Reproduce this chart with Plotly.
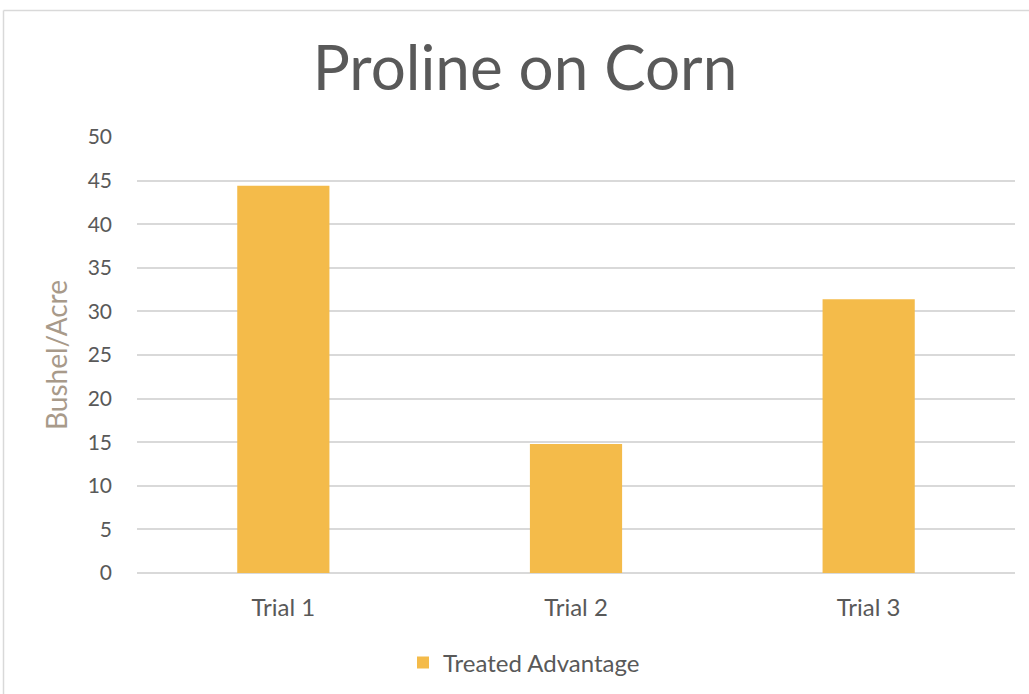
import plotly.graph_objects as go

categories = ["Trial 1", "Trial 2", "Trial 3"]
values = [44.4, 14.8, 31.4]
series_name = "Treated Advantage"
y_ticks = [0, 5, 10, 15, 20, 25, 30, 35, 40, 45, 50]

W, H = 1029, 694
ml, mr, mt, mb = 137, 14, 137, 121
pw = W - ml - mr
ph = H - mt - mb

fig = go.Figure()
fig.add_trace(go.Bar(
    x=categories, y=values, name=series_name,
    marker=dict(color="#F4BB4A", line=dict(width=0)),
    showlegend=True,
))

fig.update_layout(
    width=W, height=H,
    margin=dict(l=ml, r=mr, t=mt, b=mb),
    paper_bgcolor="white", plot_bgcolor="white",
    bargap=0.685,
    font=dict(family="Lato, Open Sans, sans-serif", color="#595959"),
    title=dict(text="Proline on Corn", x=525 / W, xref="container", xanchor="center",
               y=1 - 68 / H, yref="container", yanchor="middle",
               font=dict(family="Lato, sans-serif", size=62, color="#595959")),
    xaxis=dict(showgrid=False, showline=False, ticks="", tickfont=dict(size=24, color="#595959"),
               ticklabelstandoff=18),
    yaxis=dict(range=[0, 50], tickvals=y_ticks, showgrid=True, gridcolor="#D9D9D9", gridwidth=1.5,
               zeroline=True, zerolinecolor="#D9D9D9", zerolinewidth=1.5,
               tickfont=dict(size=21, color="#595959"), ticklabelstandoff=24,
               title=dict(text="Bushel/Acre", font=dict(size=28, color="#A89A8A"), standoff=11)),
    legend=dict(orientation="h", x=524 / W, xref="container", xanchor="center",
                y=1 - 663 / H, yref="container", yanchor="middle",
                font=dict(size=24, color="#595959"), itemwidth=30),
    shapes=[
        dict(type="line", xref="paper", yref="paper",
             x0=(3.5 - ml) / pw, x1=(W + 5 - ml) / pw,
             y0=(H - mb - 10.5) / ph, y1=(H - mb - 10.5) / ph,
             line=dict(color="#D9D9D9", width=1.5)),
        dict(type="line", xref="paper", yref="paper",
             x0=(3.5 - ml) / pw, x1=(3.5 - ml) / pw,
             y0=(H - mb - 10.5) / ph, y1=(H - mb - H - 5) / ph,
             line=dict(color="#D9D9D9", width=1.5)),
    ],
)

fig.write_html("out.html", config={"displayModeBar": False},
               post_script="document.body.style.margin='0';")
